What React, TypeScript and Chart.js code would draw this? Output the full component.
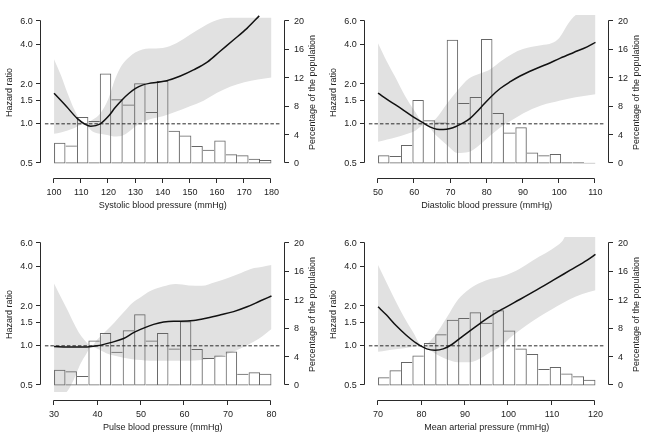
import React, { useEffect, useRef } from "react";
import { Chart, registerables } from "chart.js";

Chart.register(...registerables);

// ---------------- shared tick labels ----------------
const HR_TICKS = [0.5, 1.0, 1.5, 2.0, 4.0, 6.0];
const PCT_TICKS = [0, 4, 8, 12, 16, 20];
const REFERENCE_HR = 1.0;
const LEFT_TITLE = "Hazard ratio";
const RIGHT_TITLE = "Percentage of the population";

// ---------------- Systolic ----------------
const SBP_TITLE = "Systolic blood pressure (mmHg)";
const SBP_TICKS = [100, 110, 120, 130, 140, 150, 160, 170, 180];
const SBP_HIST = [2.91, 2.52, 6.53, 5.96, 12.67, 9.05, 8.3, 11.3, 7.24, 11.61, 4.59, 3.93, 2.47, 1.94, 3.22, 1.28, 1.15, 0.66, 0.49];
const SBP_CURVE_X = [100, 104.5, 108.5, 111.5, 113.5, 117, 120, 122.5, 125, 127.5, 130, 132.5, 135, 138, 141.5, 146.5, 151.5, 156.5, 161, 166, 171, 175.5];
const SBP_CURVE_HR = [1.71, 1.36, 1.1, 0.99, 0.96, 1.0, 1.14, 1.33, 1.52, 1.7, 1.86, 1.97, 2.03, 2.07, 2.13, 2.31, 2.58, 2.96, 3.55, 4.34, 5.32, 6.62];
const SBP_BAND_X = [100, 102.5, 105, 107.5, 111, 114, 117, 120, 122.5, 125, 127.5, 130, 132.5, 135, 140, 145, 150, 155, 160, 165, 170, 175, 180];
const SBP_BAND_LO = [0.84, 0.86, 0.89, 0.93, 0.995, 0.88, 0.84, 0.82, 0.8, 0.81, 0.87, 0.96, 1.03, 1.08, 1.14, 1.24, 1.36, 1.5, 1.72, 1.92, 2.07, 2.17, 2.25];
const SBP_BAND_HI = [3.1, 2.35, 1.7, 1.28, 0.995, 1.07, 1.2, 1.55, 2.2, 2.8, 3.2, 3.5, 3.68, 3.74, 3.78, 4.1, 4.75, 5.5, 6.15, 6.4, 6.4, 6.4, 6.4];

// ---------------- Diastolic ----------------
const DBP_TITLE = "Diastolic blood pressure (mmHg)";
const DBP_TICKS = [50, 60, 70, 80, 90, 100, 110];
const DBP_HIST = [1.15, 1.06, 2.6, 8.92, 6.09, 5.78, 17.44, 8.52, 9.36, 17.53, 7.11, 4.37, 5.08, 1.55, 1.15, 1.32, 0.18, 0.18, 0.09];
const DBP_CURVE_X = [50, 53.2, 56.5, 59.7, 62.5, 64.3, 66.2, 68, 69.9, 71.7, 73.5, 75.4, 77.2, 79.1, 80.9, 83.7, 86.5, 89.2, 92.9, 96.6, 100.3, 104, 107.7, 110];
const DBP_CURVE_HR = [1.71, 1.49, 1.3, 1.13, 1.015, 0.948, 0.91, 0.905, 0.92, 0.96, 1.015, 1.1, 1.23, 1.4, 1.58, 1.855, 2.09, 2.31, 2.58, 2.84, 3.16, 3.49, 3.85, 4.16];
const DBP_BAND_X = [50, 52.5, 55, 57.5, 60, 63, 66, 69, 72, 75, 78, 81, 84, 87, 90, 95, 98, 100, 102.5, 104.5, 110];
const DBP_BAND_LO = [0.73, 0.76, 0.79, 0.83, 0.88, 0.99, 0.82, 0.69, 0.6, 0.61, 0.69, 0.815, 0.95, 1.07, 1.2, 1.38, 1.45, 1.5, 1.55, 1.59, 1.68];
const DBP_BAND_HI = [4.1, 2.95, 2.2, 1.62, 1.26, 0.99, 1.1, 1.42, 1.8, 2.2, 2.4, 2.6, 3.0, 3.4, 3.7, 3.95, 4.11, 4.5, 5.8, 6.7, 7.5];

// ---------------- Pulse ----------------
const PP_TITLE = "Pulse blood pressure (mmHg)";
const PP_TICKS = [30, 40, 50, 60, 70, 80];
const PP_HIST = [2.22, 2.0, 1.33, 6.34, 7.37, 4.75, 7.77, 10.03, 6.34, 7.37, 5.2, 9.03, 5.12, 3.86, 4.22, 4.79, 1.65, 1.84, 1.66];
const PP_CURVE_X = [30, 33, 37.6, 39.9, 43, 46, 48.3, 50.6, 52.9, 55.2, 57.5, 59.1, 62.1, 65.2, 68.3, 71.3, 74.4, 77.5, 80];
const PP_CURVE_HR = [0.99, 0.98, 0.98, 1.0, 1.058, 1.136, 1.26, 1.363, 1.456, 1.52, 1.54, 1.54, 1.56, 1.63, 1.72, 1.82, 1.98, 2.2, 2.39];
const PP_BAND_X = [30, 32, 33, 34.5, 36, 37.5, 38.5, 40, 42, 44, 46, 48, 50, 52, 55, 58, 61, 64, 67, 70, 73, 76, 78, 80];
const PP_BAND_LO = [0.43, 0.43, 0.45, 0.55, 0.72, 0.88, 0.985, 0.95, 0.88, 0.84, 0.81, 0.79, 0.78, 0.77, 0.77, 0.77, 0.77, 0.78, 0.81, 0.87, 0.96, 1.08, 1.19, 1.34];
const PP_BAND_HI = [2.98, 2.2, 1.9, 1.5, 1.22, 1.06, 0.985, 1.12, 1.3, 1.52, 1.8, 2.12, 2.35, 2.6, 2.82, 2.95, 2.88, 2.86, 3.05, 3.28, 3.58, 3.9, 4.0, 4.12];

// ---------------- Mean arterial ----------------
const MAP_TITLE = "Mean arterial pressure (mmHg)";
const MAP_TICKS = [70, 80, 90, 100, 110, 120];
const MAP_HIST = [1.16, 2.13, 3.29, 4.22, 5.96, 7.2, 9.24, 9.51, 10.31, 8.84, 10.58, 7.73, 5.2, 4.44, 2.31, 2.58, 1.69, 1.29, 0.8];
const MAP_CURVE_X = [70, 71.9, 74.2, 76.5, 78.8, 81.2, 83.1, 85, 86.9, 88.8, 91.2, 93.5, 95.8, 98.8, 102.7, 106.5, 110.4, 114.2, 118.1, 120];
const MAP_CURVE_HR = [1.98, 1.72, 1.42, 1.203, 1.047, 0.948, 0.927, 0.948, 1.019, 1.138, 1.307, 1.484, 1.676, 1.92, 2.26, 2.66, 3.17, 3.76, 4.48, 4.95];
const MAP_BAND_X = [70, 72, 74, 76, 78, 80.2, 83, 85.8, 88.4, 91.1, 93.8, 96, 98, 101, 104, 107, 110, 112.3, 114, 117, 120];
const MAP_BAND_LO = [0.9, 0.92, 0.94, 0.96, 0.98, 1.0, 0.88, 0.79, 0.75, 0.75, 0.81, 0.9, 0.98, 1.2, 1.42, 1.66, 1.9, 2.1, 2.25, 2.48, 2.65];
const MAP_BAND_HI = [4.12, 3.0, 2.2, 1.65, 1.28, 1.0, 1.19, 1.64, 2.25, 2.72, 3.05, 3.23, 3.33, 3.62, 4.12, 4.75, 5.43, 6.2, 7.5, 7.5, 7.5];

// ---------------- styling / layout ----------------
const FONT_FAMILY = "'Liberation Sans', Arial, Helvetica, sans-serif";
const FONT = { family: FONT_FAMILY, size: 9, lineHeight: 1.2 };
const INK = "#222222";
const AXIS_INK = "#2a2a2a";
const BAND_FILL = "#e1e1e1";
const BAR_LINE = "#666666";
const CURVE_INK = "#111111";

const CANVAS_W = 323;
const CANVAS_H = 215;
const PANEL_POS = [
  [0, 0],
  [324, 0],
  [0, 222],
  [324, 222],
];
const LEFT_W = 41;
const RIGHT_W = 38.5;
const X_AXIS_H = 45;
const TOP_PAD = 5;
const TICK_LEN = 4.5;
const X_AXIS_GAP = 8.5;
const RIGHT_TITLE_OFFSET = 10;
const X_PAD = 0.06;
const REF_PAD = 0.042;
const Y_PAD = 0.0464;

const rAxesPlugin = {
  id: "rAxes",
  afterDraw(chart: any) {
    const { ctx, chartArea: a, scales } = chart;
    const sx = scales.x;
    const sl = scales.y;
    const sr = scales.y2;
    const c = (v: number) => Math.floor(v - 0.5) + 0.5;
    ctx.save();
    ctx.strokeStyle = AXIS_INK;
    ctx.lineWidth = 1;
    ctx.beginPath();
    // bottom axis (detached, R style)
    const yb = c(a.bottom + X_AXIS_GAP);
    const xs = sx.ticks.map((t: any) => c(sx.getPixelForValue(t.value)));
    ctx.moveTo(xs[0], yb);
    ctx.lineTo(xs[xs.length - 1], yb);
    xs.forEach((px: number) => {
      ctx.moveTo(px, yb);
      ctx.lineTo(px, yb + TICK_LEN);
    });
    // left axis
    const xl = c(a.left);
    const yl = sl.ticks.map((t: any) => c(sl.getPixelForValue(t.value)));
    ctx.moveTo(xl, yl[0]);
    ctx.lineTo(xl, yl[yl.length - 1]);
    yl.forEach((py: number) => {
      ctx.moveTo(xl, py);
      ctx.lineTo(xl - TICK_LEN, py);
    });
    // right axis
    const xr = c(a.right);
    const yr = sr.ticks.map((t: any) => c(sr.getPixelForValue(t.value)));
    ctx.moveTo(xr, yr[0]);
    ctx.lineTo(xr, yr[yr.length - 1]);
    yr.forEach((py: number) => {
      ctx.moveTo(xr, py);
      ctx.lineTo(xr + TICK_LEN, py);
    });
    ctx.stroke();
    // right-hand title, reading upwards like the left one
    ctx.fillStyle = INK;
    ctx.font = `${FONT.size}px ${FONT_FAMILY}`;
    ctx.textAlign = "center";
    ctx.textBaseline = "middle";
    ctx.translate(sr.right - RIGHT_TITLE_OFFSET, (a.top + a.bottom) / 2);
    ctx.rotate(-Math.PI / 2);
    ctx.fillText(sr.options.title.text, 0, 0);
    ctx.restore();
  },
};

type PanelSpec = {
  title: string;
  ticks: number[];
  hist: number[];
  curveX: number[];
  curveHR: number[];
  bandX: number[];
  bandLo: number[];
  bandHi: number[];
};

const PANELS: PanelSpec[] = [
  { title: SBP_TITLE, ticks: SBP_TICKS, hist: SBP_HIST, curveX: SBP_CURVE_X, curveHR: SBP_CURVE_HR, bandX: SBP_BAND_X, bandLo: SBP_BAND_LO, bandHi: SBP_BAND_HI },
  { title: DBP_TITLE, ticks: DBP_TICKS, hist: DBP_HIST, curveX: DBP_CURVE_X, curveHR: DBP_CURVE_HR, bandX: DBP_BAND_X, bandLo: DBP_BAND_LO, bandHi: DBP_BAND_HI },
  { title: PP_TITLE, ticks: PP_TICKS, hist: PP_HIST, curveX: PP_CURVE_X, curveHR: PP_CURVE_HR, bandX: PP_BAND_X, bandLo: PP_BAND_LO, bandHi: PP_BAND_HI },
  { title: MAP_TITLE, ticks: MAP_TICKS, hist: MAP_HIST, curveX: MAP_CURVE_X, curveHR: MAP_CURVE_HR, bandX: MAP_BAND_X, bandLo: MAP_BAND_LO, bandHi: MAP_BAND_HI },
];

function buildConfig(p: PanelSpec): any {
  const lo = p.ticks[0];
  const hi = p.ticks[p.ticks.length - 1];
  const span = hi - lo;
  const n = p.hist.length;
  const w = span / n;
  const bars = p.hist.map((v, i) => ({ x: lo + (i + 0.5) * w, y: v }));
  const curve = p.curveX.map((x, i) => ({ x, y: p.curveHR[i] }));
  const bandLo = p.bandX.map((x, i) => ({ x, y: p.bandLo[i] }));
  const bandHi = p.bandX.map((x, i) => ({ x, y: p.bandHi[i] }));
  const refLine = [
    { x: lo - REF_PAD * span, y: REFERENCE_HR },
    { x: hi + REF_PAD * span, y: REFERENCE_HR },
  ];
  const hrLo = HR_TICKS[0];
  const hrHi = HR_TICKS[HR_TICKS.length - 1];
  const k = Math.exp(Math.log(hrHi / hrLo) * Y_PAD);
  const pLo = PCT_TICKS[0];
  const pHi = PCT_TICKS[PCT_TICKS.length - 1];
  const pPad = (pHi - pLo) * Y_PAD;

  const barBorder = (c: any) => {
    const i = c.dataIndex;
    const d = c.dataset.data;
    if (i === undefined || !d[i]) return 1;
    const v = d[i].y;
    const prev = i > 0 ? d[i - 1].y : -Infinity;
    const next = i < d.length - 1 ? d[i + 1].y : -Infinity;
    return { top: 1, bottom: 1, left: v >= prev ? 1 : 0, right: v > next ? 1 : 0 };
  };

  const noGrid = { display: false, drawTicks: false, tickLength: 0 };

  return {
    type: "bar",
    data: {
      datasets: [
        {
          type: "line",
          label: "95% CI lower",
          data: bandLo,
          yAxisID: "y",
          borderWidth: 0,
          pointRadius: 0,
          fill: false,
          cubicInterpolationMode: "monotone",
          order: 5,
        },
        {
          type: "line",
          label: "95% CI upper",
          data: bandHi,
          yAxisID: "y",
          borderWidth: 0,
          pointRadius: 0,
          backgroundColor: BAND_FILL,
          fill: "-1",
          cubicInterpolationMode: "monotone",
          order: 4,
        },
        {
          type: "bar",
          label: RIGHT_TITLE,
          data: bars,
          yAxisID: "y2",
          backgroundColor: "rgba(0,0,0,0)",
          borderColor: BAR_LINE,
          borderWidth: barBorder,
          borderSkipped: false,
          inflateAmount: 0,
          barPercentage: 1,
          categoryPercentage: 1,
          order: 3,
        },
        {
          type: "line",
          label: "Reference",
          data: refLine,
          yAxisID: "y",
          borderColor: AXIS_INK,
          borderWidth: 1,
          borderDash: [3.5, 2],
          pointRadius: 0,
          fill: false,
          order: 2,
        },
        {
          type: "line",
          label: LEFT_TITLE,
          data: curve,
          yAxisID: "y",
          borderColor: CURVE_INK,
          borderWidth: 1.5,
          pointRadius: 0,
          fill: false,
          cubicInterpolationMode: "monotone",
          order: 1,
        },
      ],
    },
    options: {
      animation: false,
      responsive: false,
      maintainAspectRatio: false,
      devicePixelRatio: 1,
      events: [],
      layout: { padding: { top: TOP_PAD, left: 0, right: 0, bottom: 0 } },
      plugins: {
        legend: { display: false },
        tooltip: { enabled: false },
      },
      scales: {
        x: {
          type: "linear",
          position: "bottom",
          bounds: "data",
          offset: false,
          min: lo - X_PAD * span,
          max: hi + X_PAD * span,
          afterBuildTicks: (s: any) => {
            s.ticks = p.ticks.map((v) => ({ value: v }));
          },
          afterFit: (s: any) => {
            s.height = X_AXIS_H;
          },
          grid: noGrid,
          border: { display: false },
          ticks: {
            font: FONT,
            color: INK,
            padding: 17.1,
            maxRotation: 0,
            autoSkip: false,
            callback: (v: any) => String(v),
          },
          title: {
            display: true,
            text: p.title,
            font: FONT,
            color: INK,
            padding: { top: 0, bottom: 3.6 },
          },
        },
        y: {
          type: "logarithmic",
          position: "left",
          bounds: "data",
          min: hrLo / k,
          max: hrHi * k,
          afterBuildTicks: (s: any) => {
            s.ticks = HR_TICKS.map((v) => ({ value: v }));
          },
          afterFit: (s: any) => {
            s.width = LEFT_W;
          },
          grid: noGrid,
          border: { display: false },
          ticks: {
            font: FONT,
            color: INK,
            padding: 8.3,
            autoSkip: false,
            callback: (v: any) => Number(v).toFixed(1),
          },
          title: {
            display: true,
            text: LEFT_TITLE,
            font: FONT,
            color: INK,
            padding: { top: 3.9, bottom: 0 },
          },
        },
        y2: {
          type: "linear",
          position: "right",
          bounds: "data",
          min: pLo - pPad,
          max: pHi + pPad,
          afterBuildTicks: (s: any) => {
            s.ticks = PCT_TICKS.map((v) => ({ value: v }));
          },
          afterFit: (s: any) => {
            s.width = RIGHT_W;
          },
          grid: noGrid,
          border: { display: false },
          ticks: {
            font: FONT,
            color: INK,
            padding: 9.5,
            autoSkip: false,
            callback: (v: any) => String(v),
          },
          title: { display: false, text: RIGHT_TITLE },
        },
      },
    },
    plugins: [rAxesPlugin],
  };
}

function Panel({ spec, left, top }: { spec: PanelSpec; left: number; top: number }) {
  const ref = useRef<HTMLCanvasElement | null>(null);
  useEffect(() => {
    if (!ref.current) return;
    const chart = new Chart(ref.current, buildConfig(spec));
    return () => chart.destroy();
  }, [spec]);
  return (
    <canvas
      ref={ref}
      width={CANVAS_W}
      height={CANVAS_H}
      style={{ position: "absolute", left, top, width: CANVAS_W, height: CANVAS_H }}
    />
  );
}

export default function App() {
  return (
    <div
      style={{
        position: "fixed",
        left: 0,
        top: 0,
        width: 647,
        height: 437,
        background: "#ffffff",
        overflow: "hidden",
      }}
    >
      {PANELS.map((p, i) => (
        <Panel key={p.title} spec={p} left={PANEL_POS[i][0]} top={PANEL_POS[i][1]} />
      ))}
    </div>
  );
}
